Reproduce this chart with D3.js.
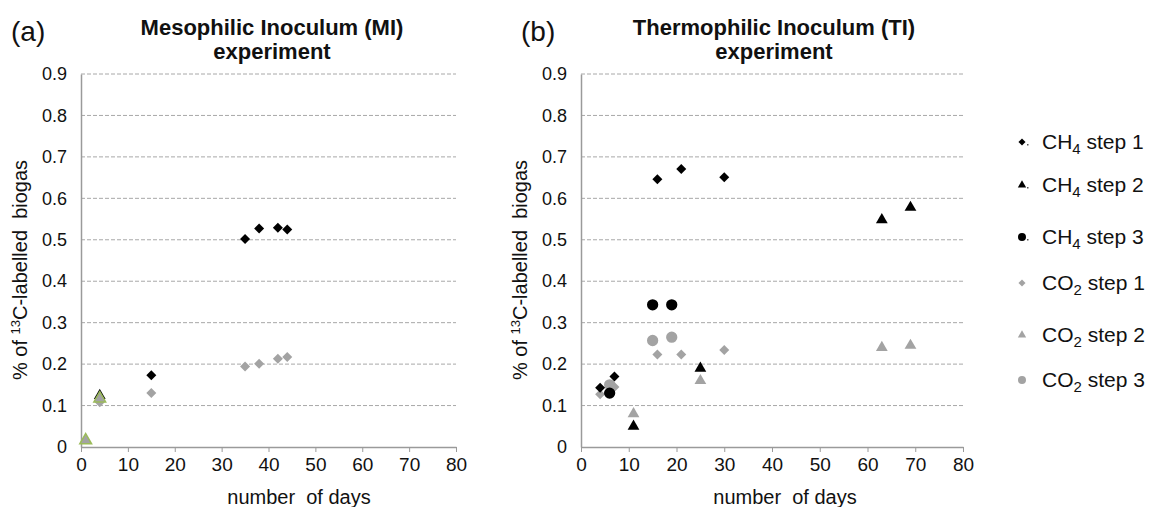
<!DOCTYPE html>
<html>
<head>
<meta charset="utf-8">
<script src="https://cdn.jsdelivr.net/npm/d3@7"></script>
<style>
  body { margin: 0; background: #fff; }
  svg text { font-family: "Liberation Sans", Arial, sans-serif; fill: #111; }
</style>
</head>
<body>
<div class="graphic"></div>
<script>
// axis ticks
var xTicks = [0, 10, 20, 30, 40, 50, 60, 70, 80]
var yTicks = [0, 0.1, 0.2, 0.3, 0.4, 0.5, 0.6, 0.7, 0.8, 0.9]

// (a) Mesophilic Inoculum
var miCH4s1Days = [15, 35, 38, 42, 44]
var miCH4s1Vals = [0.173, 0.502, 0.527, 0.529, 0.525]
var miCH4s2Days = [4]
var miCH4s2Vals = [0.124]
var miCO2s1Days = [4, 15, 35, 38, 42, 44]
var miCO2s1Vals = [0.108, 0.13, 0.194, 0.201, 0.213, 0.217]
var miCO2s2Days = [1, 4]
var miCO2s2Vals = [0.016, 0.117]

// (b) Thermophilic Inoculum
var tiCH4s1Days = [4, 7, 16, 21, 30]
var tiCH4s1Vals = [0.143, 0.17, 0.646, 0.671, 0.651]
var tiCH4s2Days = [11, 25, 63, 69]
var tiCH4s2Vals = [0.05, 0.19, 0.548, 0.578]
var tiCH4s3Days = [6, 15, 19]
var tiCH4s3Vals = [0.13, 0.343, 0.343]
var tiCO2s1Days = [4, 7, 16, 21, 30]
var tiCO2s1Vals = [0.127, 0.145, 0.223, 0.223, 0.234]
var tiCO2s2Days = [11, 25, 63, 69]
var tiCO2s2Vals = [0.08, 0.16, 0.24, 0.245]
var tiCO2s3Days = [6, 15, 19]
var tiCO2s3Vals = [0.15, 0.257, 0.265]

var legendGas = ['CH', 'CH', 'CH', 'CO', 'CO', 'CO']
var legendSub = ['4', '4', '4', '2', '2', '2']
var legendStep = [' step 1', ' step 2', ' step 3', ' step 1', ' step 2', ' step 3']

var black = '#000'
var grey = '#a3a3a3'
var axisGrey = '#9a9a9a'

var width = 1151, height = 507
var svg = d3.select('.graphic').append('svg')
  .attr('width', width)
  .attr('height', height)

function zip(days, vals) {
  return days.map(function(d, i) { return {x: d, y: vals[i]} })
}

// shape helpers: excel-ish markers
var shapes = {
  diamond: { type: d3.symbolSquare, size: 50, rotate: 45 },
  triangle: { type: d3.symbolTriangle, size: 60, rotate: 0 },
  circle: { type: d3.symbolCircle, size: 100, rotate: 0 }
}

function drawPanel(opt) {
  var g = svg.append('g')
  var x = d3.scaleLinear().domain([0, 80]).range([opt.left, opt.right])
  var y = d3.scaleLinear().domain([0, 0.9]).range([447, 74])

  // gridlines
  g.selectAll('.grid')
    .data(yTicks.slice(1))
    .enter().append('line')
      .attr('x1', opt.left).attr('x2', opt.right)
      .attr('y1', function(d) { return y(d) }).attr('y2', function(d) { return y(d) })
      .attr('stroke', '#a8a8a8')
      .attr('stroke-width', 1)
      .attr('stroke-dasharray', '4,2')

  // x axis
  var xAxis = d3.axisBottom(x).tickValues(xTicks).tickSize(5).tickSizeOuter(0).tickPadding(6)
  var xg = g.append('g')
    .attr('transform', 'translate(0,' + y(0) + ')')
    .call(xAxis)
  xg.select('.domain').attr('stroke', axisGrey).attr('stroke-width', 1.5)
  xg.selectAll('.tick line').attr('stroke', axisGrey)
  xg.selectAll('.tick text').attr('font-size', 19).attr('fill', '#111')
    .attr('font-family', '"Liberation Sans", Arial, sans-serif')

  // y axis
  var yAxis = d3.axisLeft(y).tickValues(yTicks).tickSize(0).tickPadding(14)
    .tickFormat(function(d) { return d === 0 ? '0' : d3.format('.1f')(d) })
  var yg = g.append('g')
    .attr('transform', 'translate(' + opt.left + ',0)')
    .call(yAxis)
  yg.select('.domain').attr('stroke', axisGrey).attr('stroke-width', 1.5)
  yg.selectAll('.tick text').attr('font-size', 18).attr('fill', '#111')
    .attr('font-family', '"Liberation Sans", Arial, sans-serif')

  // titles
  g.append('text').attr('x', opt.tagX).attr('y', 41)
    .attr('font-size', 28).text(opt.tag)
  g.append('text').attr('x', opt.titleX).attr('y', 35)
    .attr('text-anchor', 'middle').attr('font-size', 22).attr('font-weight', 'bold')
    .text(opt.title1)
  g.append('text').attr('x', opt.titleX).attr('y', 59)
    .attr('text-anchor', 'middle').attr('font-size', 22).attr('font-weight', 'bold')
    .text(opt.title2)

  // axis titles
  g.append('text').attr('x', opt.xTitleX).attr('y', 504)
    .attr('text-anchor', 'middle').attr('font-size', 20)
    .style('white-space', 'pre')
    .text('number  of days')

  var yl = g.append('text')
    .attr('transform', 'translate(' + opt.yTitleX + ',270) rotate(-90)')
    .attr('text-anchor', 'middle').attr('font-size', 20)
  yl.append('tspan').text('% of ')
  yl.append('tspan').attr('font-size', 13).attr('dy', -7).text('13')
  yl.append('tspan').attr('dy', 7).text('C-labelled  biogas')
  yl.style('white-space', 'pre')

  // series
  opt.series.forEach(function(s) {
    var sh = shapes[s.shape]
    var sym = d3.symbol().type(sh.type).size(sh.size)
    g.selectAll(null)
      .data(s.data)
      .enter().append('path')
        .attr('d', sym)
        .attr('transform', function(d) {
          return 'translate(' + x(d.x) + ',' + y(d.y) + ') rotate(' + sh.rotate + ')'
        })
        .attr('fill', s.color)
        .attr('stroke', s.stroke || 'none')
        .attr('stroke-width', s.stroke ? 1.5 : 0)
  })
}

drawPanel({
  left: 81, right: 456, tag: '(a)', tagX: 11, titleX: 272,
  title1: 'Mesophilic Inoculum (MI)', title2: 'experiment',
  xTitleX: 299, yTitleX: 27,
  series: [
    { shape: 'diamond', color: black, data: zip(miCH4s1Days, miCH4s1Vals) },
    { shape: 'triangle', color: black, data: zip(miCH4s2Days, miCH4s2Vals) },
    { shape: 'diamond', color: grey, data: zip(miCO2s1Days, miCO2s1Vals) },
    { shape: 'triangle', color: grey, stroke: '#9bbb59', data: zip(miCO2s2Days, miCO2s2Vals) }
  ]
})

drawPanel({
  left: 581, right: 963, tag: '(b)', tagX: 521, titleX: 774,
  title1: 'Thermophilic Inoculum (TI)', title2: 'experiment',
  xTitleX: 785, yTitleX: 527,
  series: [
    { shape: 'diamond', color: grey, data: zip(tiCO2s1Days, tiCO2s1Vals) },
    { shape: 'triangle', color: grey, data: zip(tiCO2s2Days, tiCO2s2Vals) },
    { shape: 'circle', color: grey, data: zip(tiCO2s3Days, tiCO2s3Vals) },
    { shape: 'diamond', color: black, data: zip(tiCH4s1Days, tiCH4s1Vals) },
    { shape: 'triangle', color: black, data: zip(tiCH4s2Days, tiCH4s2Vals) },
    { shape: 'circle', color: black, data: zip(tiCH4s3Days, tiCH4s3Vals) }
  ]
})

// legend
var legendY = [142, 185, 237, 283, 335, 380]
var legendShape = ['diamond', 'triangle', 'circle', 'diamond', 'triangle', 'circle']
var legendColor = [black, black, black, grey, grey, grey]
var lg = svg.append('g')
legendY.forEach(function(ly, i) {
  var sh = shapes[legendShape[i]]
  lg.append('path')
    .attr('d', d3.symbol().type(sh.type).size(sh.size * 0.5))
    .attr('transform', 'translate(1022,' + ly + ') rotate(' + sh.rotate + ')')
    .attr('fill', legendColor[i])
  if (i < 3) {
    lg.append('rect').attr('x', 1027).attr('y', ly + 2).attr('width', 1.5).attr('height', 1.5)
      .attr('fill', '#555')
  }
  var t = lg.append('text').attr('x', 1042).attr('y', ly + 7).attr('font-size', 21)
    .style('white-space', 'pre')
  t.append('tspan').text(legendGas[i])
  t.append('tspan').attr('font-size', 15).attr('dy', 5).text(legendSub[i])
  t.append('tspan').attr('dy', -5).text(legendStep[i])
})
</script>
</body>
</html>
